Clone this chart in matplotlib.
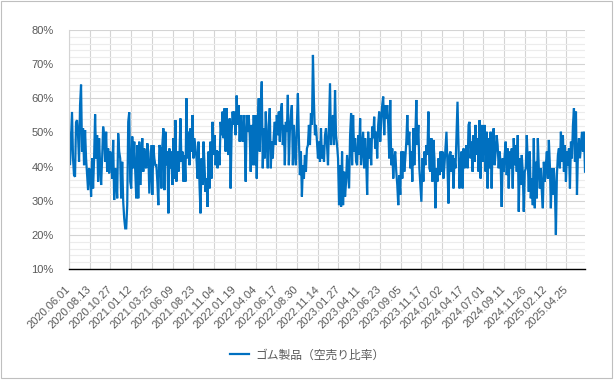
import numpy as np
import matplotlib
matplotlib.use("Agg")
import matplotlib.pyplot as plt
from matplotlib.ticker import MultipleLocator, FuncFormatter
from matplotlib.patches import Rectangle

plt.rcParams['font.family'] = ['Liberation Sans', 'Noto Sans CJK JP', 'DejaVu Sans']

series_name = "ゴム製品（空売り比率）"

tick_labels = [
    "2020.06.01", "2020.08.13", "2020.10.27", "2021.01.12", "2021.03.25",
    "2021.06.09", "2021.08.23", "2021.11.04", "2022.01.19", "2022.04.04",
    "2022.06.17", "2022.08.30", "2022.11.14", "2023.01.27", "2023.04.11",
    "2023.06.23", "2023.09.05", "2023.11.17", "2024.02.02", "2024.04.17",
    "2024.07.01", "2024.09.11", "2024.11.26", "2025.02.12", "2025.04.25",
]

# short-selling ratio (%) in consecutive stretches
seg1 = [50, 40.4, 48.3, 56, 42.4, 37.5, 37, 53, 53.6, 49.2,
        41.4, 58, 64, 44.4, 51.2, 40.4, 50.7, 42.4, 37.5, 33.1,
        39.5, 38.5, 31.2, 42.4, 33.6, 42.4, 55.3, 42.4, 49.2, 35.6,
        48.3, 40.4, 34.6, 42.4, 51.7, 49.2, 41.4, 50.2, 38.5, 45.3,
        38, 44.4, 42.4, 36.5, 47.8, 30.2, 39.5, 36.5, 30.7, 49.7,
        44.4, 42.4, 30.7, 41.4, 29.7, 24.8, 21.9, 21.9, 28.7, 53.1,
        55.9, 35.6, 33.6, 48.8, 39.5, 47.3, 38.5, 30.7, 46.3, 30.7,
        47.3, 34.6, 42.4, 48.3, 38.5, 45.3, 40.4, 39.5, 46.8, 44.4,
        32.1, 39.5, 46.3, 31.7, 46.3, 42.4, 40.4, 40.4, 35.6, 28.7, 46.3]

seg2 = [45.3, 33.6, 46.3, 51.2, 33.1, 50.2, 40.4, 44.4, 26.3, 45.3,
        39.5, 44.4, 34.6, 48.3, 36.5, 53.6, 35.6, 44.4, 38.5, 42.4,
        54.1, 41.4, 44.4, 35.6, 43.4, 35.6, 60, 42.4, 50.2, 40.4,
        51.2, 44.4, 55.1, 42.4, 48.3, 45.3, 42.4, 36.5, 47.3, 34.6,
        26.3, 42.4, 34.6, 47.3, 40.4, 32.6, 36.5, 28.2, 44.4, 33.6,
        47.3, 36.5, 53.1, 43.4, 49.2, 40.4, 44.8, 39.5, 44.4, 40.4,
        53.1, 49.2, 56.1, 48.3, 57.1, 44.4, 57.1, 45.3, 43.4, 54.1,
        33.6, 50.2, 56.1, 52.2, 56.1, 49.2, 60.8, 52.2, 58, 47.3,
        55.1, 50.2, 47.3, 55.1, 49.2, 35.6, 55.1, 50.2, 55.1]

seg3 = [49.2, 38.5, 52.2, 40.4, 55.1, 40.4, 55.1, 36.5, 52.2, 60,
        44.4, 57.1, 64.9, 39.5, 51.2, 42.4, 56.1, 47.3, 39.5, 52.2,
        57.1, 39.5, 47.3, 42.4, 49.2, 53.1, 46.3, 55.1, 49.2, 56.1,
        47.3, 56.1, 58.5, 46.3, 52.2, 40.4, 53.1, 50.2, 61, 40.4,
        50.2, 55.1, 58, 40.4, 52.2, 44.4, 40.4, 52.2, 61.4, 48.3,
        37.5, 44.4, 31.2, 40.4, 36.5, 43.4, 38.5, 45.3, 46.3, 52.2,
        46.3, 55.6, 52.2, 72.7, 59, 49.2, 52.2, 47.3, 42.4, 47.3,
        41.4, 51.2, 42.4, 46.3, 41.4, 49.2, 51.2, 46.3, 40.4, 52.2,
        64.4, 46.3, 52.2, 55.1, 46.3, 62.4, 49.2, 46.3, 42.4, 28.7]

seg4 = [40.4, 28.2, 44.4, 28.7, 38.5, 31.2, 35.6, 43.4, 38.5, 33.6,
        49.2, 55.6, 40.4, 55.1, 44.4, 48.3, 41.4, 40.4, 49.2, 43.4,
        54.1, 40.4, 45.3, 50.2, 39.5, 48.3, 42.4, 31.7, 50.2, 42.4,
        48.3, 40.4, 51.7, 48.3, 54.6, 45.3, 50.2, 42.4, 52.2, 56.1,
        47.3, 53.1, 58, 60.5, 49.2, 58, 54.1, 58, 52.2, 42.4,
        59.5, 40.4, 45.3, 36.5, 42.4, 44.4, 38.5, 34.6, 28.7, 37.5,
        31.7, 44.4, 36.5, 44.4, 38.5, 42.4, 47.3, 55.1, 46.3, 50.2,
        39.5, 44.4, 35.6, 51.2, 40.4, 49.2, 59.5, 46.3, 52.2, 39.5,
        34.6, 29.7, 42.4, 35.6, 44.4, 40.4, 46.3, 43.4, 56.1, 39.5]

seg5 = [38.5, 48.3, 35.6, 47.8, 42.4, 27.8, 39.5, 35.6, 42.4, 37.5,
        44.4, 38.5, 44.4, 36.5, 40.4, 45.3, 50.2, 40.4, 29.2, 43.4,
        44.4, 38.5, 43.4, 33.6, 42.4, 39.5, 49.2, 59, 46.3, 33.6,
        40.4, 44.4, 33.6, 45.3, 39.5, 41.4, 46.3, 39.5, 52.2, 53.1,
        42.4, 47.3, 38.5, 49.2, 41.4, 52.2, 43.4, 48.3, 38.5, 53.6,
        36.5, 52.2, 41.4, 47.3, 52.2, 38.5, 50.2, 33.6, 48.3, 39.5,
        50.2, 33.6, 47.3, 51.2, 40.4, 44.4, 49.2, 46.3, 39.5, 44.4,
        40.4, 28.2, 42.4, 38.5, 43.4, 47.3, 37.5, 45.3, 33.6, 44.4,
        39.5, 45.3, 33.6, 48.3, 40.4, 46.3, 38.5, 49.2, 26.8, 42.4]

seg6 = [34.6, 43.4, 38.5, 26.8, 38.5, 39.5, 49.2, 41.4, 32.6, 44.4,
        30.7, 36.5, 28.7, 48.3, 27.8, 41.4, 30.7, 48.3, 39.5, 33.6,
        39.5, 32.6, 27.8, 41.4, 35.6, 40.4, 44.4, 36.5, 47.8, 40.4,
        27.8, 39.5, 31.7, 39.5, 33.6, 20, 37.5, 43.4, 45.3, 39.5,
        50.2, 41.4, 49.2, 38.5, 46.3, 35.6, 44.4, 40.4, 45.3, 33.6,
        47.3, 42.4, 52.2, 57.1, 41.4, 56.1, 31.7, 44.4, 48.3, 42.4,
        46.3, 50.2, 44.4, 50.2, 38.5]

values = np.concatenate([seg1, seg2, seg3, seg4, seg5, seg6])
N_DAYS = 1246          # trading days covered by the chart
TICK_EVERY = 50        # a label every 50 trading days
x = np.linspace(0, N_DAYS - 1, len(values))

fig = plt.figure(figsize=(6.15, 3.8), dpi=100)
fig.patch.set_facecolor('white')
fig.patches.append(Rectangle((0.5 / 615, 2.5 / 380), 611 / 615, 377 / 380,
                             transform=fig.transFigure, fill=False,
                             edgecolor='#bfbfbf', linewidth=0.8))

ax = fig.add_axes([69 / 615, 111 / 380, 516 / 615, 239 / 380])
line, = ax.plot(x, values, color='#0070C0', linewidth=1.6, label=series_name,
                solid_joinstyle='miter')

ax.set_xlim(0, N_DAYS - 1)
ax.set_ylim(10, 80)
ax.yaxis.set_major_locator(MultipleLocator(10))
ax.yaxis.set_minor_locator(MultipleLocator(2))
ax.yaxis.set_major_formatter(FuncFormatter(lambda v, p: f"{v:.0f}%"))

ticks = np.arange(len(tick_labels)) * TICK_EVERY
ax.set_xticks(ticks)
ax.set_xticklabels(tick_labels, rotation=45, ha='right', va='center',
                   rotation_mode='anchor')

ax.grid(which='major', axis='both', color='#d4d4d4', linewidth=0.8)
ax.grid(which='minor', axis='y', color='#ececec', linewidth=0.8)
ax.set_axisbelow(True)
ax.tick_params(which='both', length=0)
ax.tick_params(axis='y', pad=11, labelsize=8, labelcolor='#595959')
ax.tick_params(axis='x', pad=13.5, labelsize=8, labelcolor='#595959')

for s in ('top', 'right'):
    ax.spines[s].set_visible(False)
ax.spines['left'].set_color('#d4d4d4')
ax.spines['left'].set_linewidth(0.8)
ax.spines['bottom'].set_color('#000000')
ax.spines['bottom'].set_linewidth(1.0)

fig.legend(handles=[line], loc='center', bbox_to_anchor=(0.5, 1 - 355 / 380),
           frameon=False, labelcolor='#595959', handlelength=1.6,
           handletextpad=0.5, prop={'family': ['Noto Sans CJK JP', 'DejaVu Sans'], 'size': 8.5})

fig.savefig('out.png', dpi=100)
